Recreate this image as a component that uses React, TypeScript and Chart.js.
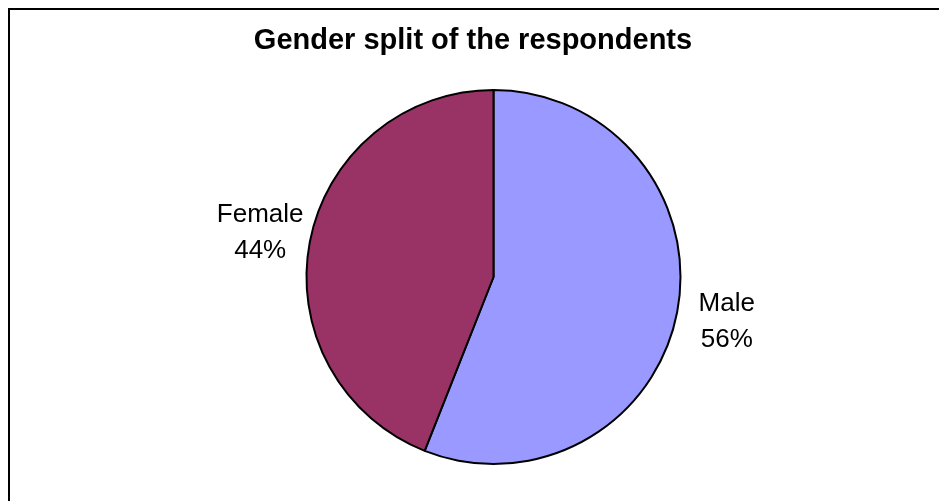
import React, { useEffect, useRef } from "react";
import { Chart, registerables } from "chart.js";

Chart.register(...registerables);

const TITLE = "Gender split of the respondents";
const categories = ["Male", "Female"];
const values = [56, 44];
const colors = ["#9999FF", "#993366"];

const FONT = "'Liberation Sans', Arial, sans-serif";

const framePlugin = {
  id: "frame",
  beforeDraw(chart: any) {
    const { ctx, width, height } = chart;
    ctx.save();
    ctx.fillStyle = "#ffffff";
    ctx.fillRect(0, 0, width, height);
    ctx.strokeStyle = "#000000";
    ctx.lineWidth = 2;
    ctx.beginPath();
    ctx.moveTo(1, height + 2);
    ctx.lineTo(1, 1);
    ctx.lineTo(width + 2, 1);
    ctx.stroke();
    ctx.restore();
  },
  afterDraw(chart: any) {
    const { ctx } = chart;
    ctx.save();
    ctx.fillStyle = "#000000";
    ctx.font = `bold 29px ${FONT}`;
    ctx.textAlign = "center";
    ctx.textBaseline = "middle";
    ctx.fillText(TITLE, 465, 33);
    ctx.restore();
  },
};

const labelPlugin = {
  id: "outLabels",
  afterDatasetsDraw(chart: any) {
    const { ctx } = chart;
    const meta = chart.getDatasetMeta(0);
    const data = chart.data.datasets[0].data as number[];
    const total = data.reduce((a, b) => a + b, 0);
    ctx.save();
    ctx.font = `26px ${FONT}`;
    ctx.fillStyle = "#000000";
    ctx.textAlign = "center";
    ctx.textBaseline = "middle";
    const lineH = 36;
    meta.data.forEach((arc: any, i: number) => {
      const { x, y, startAngle, endAngle, outerRadius } = arc.getProps(
        ["x", "y", "startAngle", "endAngle", "outerRadius"],
        true
      );
      const mid = (startAngle + endAngle) / 2;
      const d = outerRadius * 1.27;
      const cx = x + d * Math.cos(mid);
      const cy = y + d * Math.sin(mid);
      const line1 = String(chart.data.labels[i]);
      const line2 = Math.round((data[i] / total) * 100) + "%";
      ctx.fillText(line1, cx, cy - lineH / 2);
      ctx.fillText(line2, cx, cy + lineH / 2);
    });
    ctx.restore();
  },
};

export default function App() {
  const ref = useRef<HTMLCanvasElement | null>(null);
  useEffect(() => {
    if (!ref.current) return;
    const chart = new Chart(ref.current, {
      type: "pie",
      data: {
        labels: categories,
        datasets: [
          {
            data: values,
            backgroundColor: colors,
            borderColor: "#000000",
            borderWidth: 2,
            radius: 187,
          },
        ],
      },
      options: {
        animation: false,
        responsive: true,
        maintainAspectRatio: false,
        layout: { padding: { left: 32, right: 0, top: 60, bottom: 15 } },
        plugins: {
          legend: { display: false },
          title: { display: false },
          tooltip: { enabled: false },
        },
      },
      plugins: [framePlugin, labelPlugin],
    });
    return () => chart.destroy();
  }, []);
  return (
    <div style={{ width: 939, height: 493, position: "relative" }}>
      <canvas ref={ref} />
    </div>
  );
}
